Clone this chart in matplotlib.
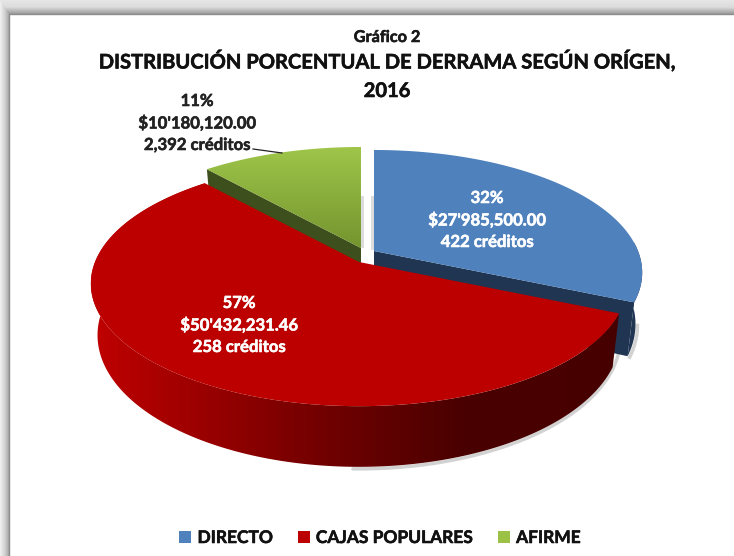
import numpy as np
import matplotlib
matplotlib.use('Agg')
import matplotlib.pyplot as plt
import matplotlib.patheffects as pe
from matplotlib.patches import Polygon, Patch
from matplotlib.colors import LinearSegmentedColormap

plt.rcParams['font.family'] = ['Lato', 'DejaVu Sans']

categories = ['DIRECTO', 'CAJAS POPULARES', 'AFIRME']
amounts = [27985500.00, 50432231.46, 10180120.00]
percent_labels = ['32%', '57%', '11%']
amount_labels = ["$27'985,500.00", "$50'432,231.46", "$10'180,120.00"]
credit_labels = ['422 créditos', '258 créditos', '2,392 créditos']

top_colors = ['#4f81bd', '#bc0000', '#9bc247']

# ellipse with a little perspective, in pixels
A, B, k = 264, 118.8, 0.176
h = 50
apex = {'blue': (374, 251), 'red': (359, 262), 'green': (361, 248)}

fig = plt.figure(figsize=(7.34, 5.56), dpi=100)
ax = fig.add_axes([0, 0, 1, 1])


def rim(t, c, depth=False):
    w = 1 + k * np.cos(t)
    dx = A * np.sin(t) / w
    dy = -B * np.cos(t) / w
    if depth:
        dx = dx * 0.975
        dy = dy + h / w
    return np.column_stack([c[0] + dx, c[1] + dy])


def gradient(pts, colors, horizontal=True, extent=None, zorder=2):
    cmap = LinearSegmentedColormap.from_list('g', colors)
    grad = np.linspace(0, 1, 256)
    grad = grad.reshape(1, -1) if horizontal else grad.reshape(-1, 1)
    if extent is None:
        extent = (pts[:, 0].min(), pts[:, 0].max(), pts[:, 1].max(), pts[:, 1].min())
    im = ax.imshow(grad, cmap=cmap, extent=extent, aspect='auto', origin='upper' if not horizontal else 'lower', zorder=zorder)
    poly = Polygon(pts, closed=True, transform=ax.transData, fc='none', ec='none')
    ax.add_patch(poly)
    im.set_clip_path(poly)


def side_pts(t0, t1, c):
    t = np.linspace(t0, t1, 200)
    return np.vstack([rim(t, c), rim(t[::-1], c, True)])


def cut_pts(t, c):
    top = rim(np.array([t]), c)[0]
    bot = rim(np.array([t]), c, True)[0]
    return np.array([c, top, bot, (c[0], c[1] + h)])


def face_pts(t0, t1, c):
    t = np.linspace(t0, t1, 200)
    return np.vstack([[c], rim(t, c)])


def bold_text(x, y, s, size, color):
    ax.text(x, y, s, ha='center', va='center', fontsize=size, fontweight='bold', color=color, zorder=8,
            path_effects=[pe.withStroke(linewidth=0.4, foreground=color)])


shares = np.array(amounts) / sum(amounts)
edges = np.concatenate([[0], np.cumsum(shares)]) * 2 * np.pi

# frame around the pasted picture
ax.add_patch(Polygon([(0, 0), (734, 0), (734, 556), (0, 556)], fc='white', ec='none', zorder=0))
gradient(np.array([(0, 0), (734, 0), (734, 14), (0, 14)]), ['#e6e6e6', '#dcdcdc', '#9a9a9a'], horizontal=False, zorder=1)
gradient(np.array([(0, 0), (9, 14), (9, 556), (0, 556)]), ['#f2f2f2', '#d4d4d4', '#a8a8a8'], horizontal=True, zorder=1)
ax.plot([9, 9, 734], [556, 14, 14], color='#8c8c8c', lw=1, zorder=1.5)

# soft shadow beneath the pie
t = np.linspace(edges[1] - 0.6, edges[2] - 2.4, 200)
ax.plot(*rim(t, (apex['red'][0], apex['red'][1] + 2), True).T, color='#808080', lw=2.5, alpha=0.35, zorder=1.8, solid_capstyle='round')
t = np.linspace(1.75, edges[1], 50)
ax.plot(*rim(t, (apex['blue'][0] + 2, apex['blue'][1] + 1), True).T, color='#808080', lw=2.5, alpha=0.35, zorder=1.8)

# grey shadows in the gap between slices
ax.fill_betweenx([196, 248], 361, 364, color='#dcdcdc', lw=0, zorder=1.9)
ax.fill_betweenx([196, 250], 371, 374, color='#dcdcdc', lw=0, zorder=1.9)

# blue slice
ax.add_patch(Polygon(side_pts(1.5, edges[1], apex['blue']), fc='#1f3552', ec='none', zorder=3))
ax.add_patch(Polygon(cut_pts(edges[1], apex['blue']), fc='#1f3552', ec='none', zorder=3))
ax.add_patch(Polygon(face_pts(0, edges[1], apex['blue']), fc=top_colors[0], ec='none', zorder=4))

# green slice
ax.add_patch(Polygon(cut_pts(edges[2], apex['green']), fc='#3d4f1c', ec='none', zorder=3))
gradient(face_pts(edges[2], edges[3], apex['green']), ['#9fc64a', '#74942e'], horizontal=False, zorder=4)

# red slice
side = side_pts(edges[1], edges[2], apex['red'])
gradient(side, [(0, '#c00000'), (0.18, '#a00000'), (0.4, '#780000'), (0.7, '#4a0000'), (1, '#470000')], horizontal=True, zorder=5)
ax.add_patch(Polygon(face_pts(edges[1], edges[2], apex['red']), fc=top_colors[1], ec='none', zorder=6))

# texts
bold_text(387, 38, 'Gráfico 2', 11.7, '#1a1a1a')
bold_text(387, 61, 'DISTRIBUCIÓN PORCENTUAL DE DERRAMA SEGÚN ORÍGEN,', 14.5, '#111111')
bold_text(387, 91, '2016', 14.5, '#111111')

label_xy = [(487, 198), (239, 303), (197, 101)]
label_colors = ['white', 'white', '#222222']
for i in range(3):
    for j, s in enumerate([percent_labels[i], amount_labels[i], credit_labels[i]]):
        bold_text(label_xy[i][0], label_xy[i][1] + j * 22, s, 12, label_colors[i])
ax.plot([253, 282], [149, 153], color='#222222', lw=0.9, zorder=8)

handles = [Patch(fc=c, ec='none') for c in top_colors]
leg = ax.legend(handles, categories, loc='center', bbox_to_anchor=(380 / 734, 1 - 538 / 556), ncol=3, frameon=False,
                prop={'size': 12.5, 'weight': 'bold'}, labelcolor='#111111', handlelength=0.7, handleheight=0.7,
                handletextpad=0.35, columnspacing=1.44)
for txt in leg.get_texts():
    txt.set_path_effects([pe.withStroke(linewidth=0.4, foreground='#111111')])

ax.set_xlim(0, 734)
ax.set_ylim(556, 0)
ax.axis('off')
fig.savefig('out.png', dpi=100)
